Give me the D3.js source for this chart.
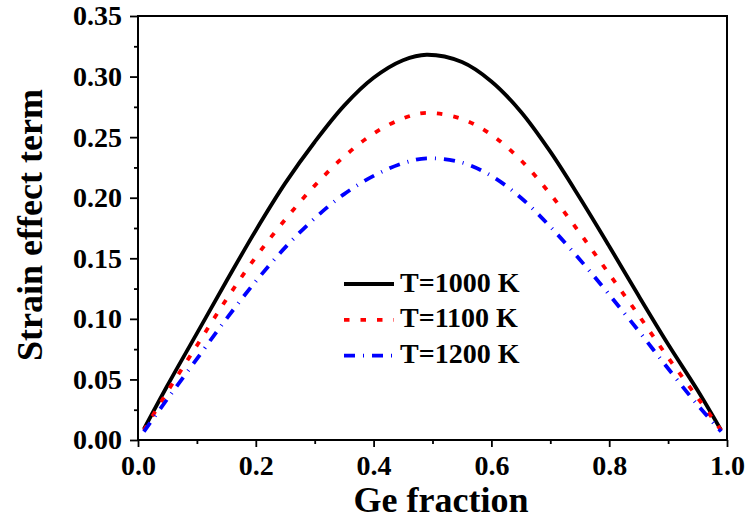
<!DOCTYPE html>
<html>
<head>
<meta charset="utf-8">
<script src="https://cdn.jsdelivr.net/npm/d3@7"></script>
<style>
  html, body { margin: 0; padding: 0; background: #fff; }
  svg text { font-family: "Liberation Serif", "Times New Roman", serif; font-weight: bold; fill: #000; }
</style>
</head>
<body>
<svg id="chart" width="745" height="522"></svg>
<script>
// ---- data ----
const geFraction = [0.01, 0.05, 0.10, 0.15, 0.20, 0.25, 0.30, 0.35, 0.40, 0.45, 0.49, 0.55, 0.60, 0.65, 0.70, 0.75, 0.80, 0.85, 0.90, 0.95, 0.99];
const strainT1000 = [0.009, 0.045, 0.088, 0.131, 0.173, 0.212, 0.246, 0.276, 0.299, 0.3135, 0.318, 0.312, 0.296, 0.271, 0.238, 0.200, 0.160, 0.119, 0.079, 0.041, 0.008];
const strainT1100 = [0.008, 0.040, 0.078, 0.116, 0.151, 0.182, 0.210, 0.234, 0.253, 0.2655, 0.270, 0.265, 0.252, 0.231, 0.203, 0.171, 0.137, 0.103, 0.068, 0.035, 0.008];
const strainT1200 = [0.007, 0.034, 0.067, 0.100, 0.131, 0.159, 0.183, 0.203, 0.218, 0.2285, 0.2325, 0.229, 0.218, 0.200, 0.176, 0.149, 0.120, 0.090, 0.059, 0.029, 0.007];
const seriesNames = ["T=1000 K", "T=1100 K", "T=1200 K"];
const xTicks = [0.0, 0.2, 0.4, 0.6, 0.8, 1.0];
const xMinorTicks = [0.1, 0.3, 0.5, 0.7, 0.9];
const yTicks = [0.00, 0.05, 0.10, 0.15, 0.20, 0.25, 0.30, 0.35];
const yMinorTicks = [0.025, 0.075, 0.125, 0.175, 0.225, 0.275, 0.325];
const xTitle = "Ge fraction";
const yTitle = "Strain effect term";

// ---- layout ----
const W = 745, H = 522;
const m = { left: 138, right: 18, top: 16, bottom: 82 };
const pw = W - m.left - m.right, ph = H - m.top - m.bottom;

const svg = d3.select("#chart");
const g = svg.append("g").attr("transform", `translate(${m.left},${m.top})`);

const x = d3.scaleLinear().domain([0, 1]).range([0, pw]);
const y = d3.scaleLinear().domain([0, 0.35]).range([ph, 0]);

// axes
const xAxis = g.append("g").attr("transform", `translate(0,${ph})`)
  .call(d3.axisBottom(x).tickValues(xTicks).tickFormat(d3.format(".1f")).tickSize(7).tickPadding(8));
const xAxisMinor = g.append("g").attr("transform", `translate(0,${ph})`)
  .call(d3.axisBottom(x).tickValues(xMinorTicks).tickFormat("").tickSize(4));
const yAxis = g.append("g")
  .call(d3.axisLeft(y).tickValues(yTicks).tickFormat(d3.format(".2f")).tickSize(8).tickPadding(8));
const yAxisMinor = g.append("g")
  .call(d3.axisLeft(y).tickValues(yMinorTicks).tickFormat("").tickSize(4));

[xAxis, xAxisMinor, yAxis, yAxisMinor].forEach(a => {
  a.select(".domain").remove();
  a.selectAll(".tick line").attr("stroke", "#000").attr("stroke-width", 1.8);
  a.selectAll("text").style("font-size", "28px").attr("fill", "#000");
});
xAxis.selectAll("text").attr("dy", "0.72em");

// frame
g.append("rect").attr("x", 0).attr("y", 0).attr("width", pw).attr("height", ph)
  .attr("fill", "none").attr("stroke", "#000").attr("stroke-width", 2);

// series
const series = [
  { name: seriesNames[0], vals: strainT1000, color: "#000000", dash: null },
  { name: seriesNames[1], vals: strainT1100, color: "#ff0000", dash: "5.5 11" },
  { name: seriesNames[2], vals: strainT1200, color: "#0000ff", dash: "11 8 1 8" }
];

const line = d3.line().curve(d3.curveCatmullRom.alpha(0.5))
  .x(d => x(d[0])).y(d => y(d[1]));

series.forEach(s => {
  const pts = geFraction.map((gx, i) => [gx, s.vals[i]]);
  g.append("path").datum(pts)
    .attr("d", line)
    .attr("fill", "none")
    .attr("stroke", s.color)
    .attr("stroke-width", 3.8)
    .attr("stroke-dasharray", s.dash);
});

// legend
const legend = svg.append("g").attr("transform", "translate(344,284)");
series.forEach((s, i) => {
  const row = legend.append("g").attr("transform", `translate(0,${i * 35.8})`);
  row.append("line").attr("x1", 0).attr("x2", 50).attr("y1", 0).attr("y2", 0)
    .attr("stroke", s.color).attr("stroke-width", 3.8).attr("stroke-dasharray", s.dash);
  row.append("text").attr("x", 56).attr("y", 7.5).style("font-size", "28px").text(s.name);
});

// axis titles
svg.append("text").attr("x", 441).attr("y", 512).attr("text-anchor", "middle")
  .style("font-size", "36px").text(xTitle);
svg.append("text").attr("transform", "translate(42,225) rotate(-90)").attr("text-anchor", "middle")
  .style("font-size", "36px").text(yTitle);
</script>
</body>
</html>
